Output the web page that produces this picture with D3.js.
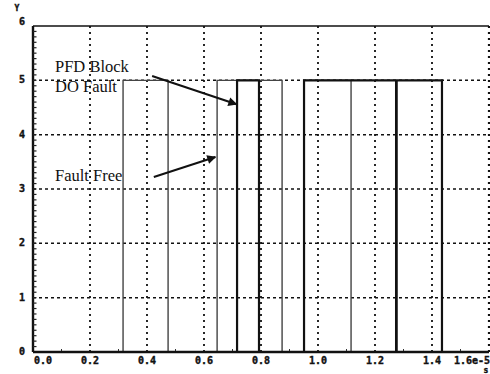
<!DOCTYPE html>
<html>
<head>
<meta charset="utf-8">
<script src="https://cdn.jsdelivr.net/npm/d3@7"></script>
<style>
  body { margin: 0; background: #fff; }
  svg { display: block; }
  .tick-label { font-family: "DejaVu Sans Mono", monospace; font-weight: bold; font-size: 10px; fill: #111; stroke: #111; stroke-width: 0.4px; }
  .note { font-family: "Liberation Serif", "Times New Roman", serif; font-size: 16.5px; fill: #111; }
</style>
</head>
<body>
<div id="chart"></div>
<script>
//Chart data (time in units of 1e-5 s, signal value)

var xTicks = [0, 0.2, 0.4, 0.6, 0.8, 1.0, 1.2, 1.4, 1.6];
var xTickLabels = ["0.0", "0.2", "0.4", "0.6", "0.8", "1.0", "1.2", "1.4", "1.6e-5"];
var yTicks = [0, 1, 2, 3, 4, 5, 6];
var yTickLabels = ["0", "1", "2", "3", "4", "5", "6"];

//Fault free signal (thin grey trace)
var faultFreeT = [0, 0.316, 0.316, 0.474, 0.474, 0.646, 0.646, 0.874, 0.874, 0.951, 0.951, 1.116, 1.116, 1.6];
var faultFreeV = [0, 0, 5, 5, 0, 0, 5, 5, 0, 0, 5, 5, 0, 0];

//PFD block DO fault signal (thick black trace)
var doFaultT = [0, 0.716, 0.716, 0.793, 0.793, 0.951, 0.951, 1.274, 1.274, 1.276, 1.276, 1.435, 1.435, 1.6];
var doFaultV = [0, 0, 5, 5, 0, 0, 5, 5, 0, 0, 5, 5, 0, 0];

//Annotations: text lines and arrows [from t, from v, to t, to v]
var notes = [
    {lines: ["PFD Block", "DO Fault"], x: 55, y: 72},
    {lines: ["Fault Free"], x: 55, y: 181}
];
var arrows = [
    [0.418, 5.08, 0.714, 4.56],
    [0.424, 3.22, 0.640, 3.59]
];

var width = 490, height = 374;
var svg = d3.select("#chart").append("svg").attr("width", width).attr("height", height);

var x = d3.scaleLinear().domain([0, 1.6]).range([33, 489]);
var y = d3.scaleLinear().domain([0, 6]).range([352, 26]);

//Grid lines
svg.selectAll("line.vgrid").data(xTicks.slice(1)).enter().append("line")
    .attr("x1", d => x(d)).attr("x2", d => x(d))
    .attr("y1", y(6)).attr("y2", y(0))
    .attr("stroke", "#111").attr("stroke-width", d => d == 1.6 ? 2.2 : 1.8)
    .attr("stroke-dasharray", "2,4");

svg.selectAll("line.hgrid").data(yTicks.slice(1, 6)).enter().append("line")
    .attr("x1", x(0)).attr("x2", x(1.6))
    .attr("y1", d => y(d)).attr("y2", d => y(d))
    .attr("stroke", "#111").attr("stroke-width", 1.5)
    .attr("stroke-dasharray", "3,3");

//Frame: solid top, thick left and bottom
svg.append("line").attr("x1", x(0)).attr("x2", x(1.6)).attr("y1", y(6)).attr("y2", y(6))
    .attr("stroke", "#111").attr("stroke-width", 1.4);
svg.append("line").attr("x1", x(0)).attr("x2", x(0)).attr("y1", y(6)).attr("y2", y(0))
    .attr("stroke", "#111").attr("stroke-width", 2.4);

//Minor ticks on the y axis
var yMinor = d3.range(0, 60).map(i => i / 10);
svg.selectAll("line.ymin").data(yMinor).enter().append("line")
    .attr("x1", x(0)).attr("x2", x(0) + 3.5)
    .attr("y1", d => y(d)).attr("y2", d => y(d))
    .attr("stroke", "#222").attr("stroke-width", 1.2);

//Minor ticks on the x axis
var xMinor = d3.range(1, 16, 2).map(i => i / 10);
svg.selectAll("line.xmin").data(xMinor).enter().append("line")
    .attr("x1", d => x(d)).attr("x2", d => x(d))
    .attr("y1", y(0)).attr("y2", y(0) - 3)
    .attr("stroke", "#333").attr("stroke-width", 1);

//Signals
var line = d3.line().x(d => x(d[0])).y(d => y(d[1]));

var faultFree = faultFreeT.map((t, i) => [t, faultFreeV[i]]);
var doFault = doFaultT.map((t, i) => [t, doFaultV[i]]);

svg.append("path").datum(faultFree).attr("d", line)
    .attr("fill", "none").attr("stroke", "#444").attr("stroke-width", 1.4);
svg.append("path").datum(doFault).attr("d", line)
    .attr("fill", "none").attr("stroke", "#111").attr("stroke-width", 2.2);

//Bottom axis line on top of everything
svg.append("line").attr("x1", x(0)).attr("x2", x(1.6)).attr("y1", y(0)).attr("y2", y(0))
    .attr("stroke", "#111").attr("stroke-width", 2.6);

//Tick labels
svg.selectAll("text.xl").data(xTicks).enter().append("text")
    .attr("class", "tick-label")
    .attr("x", (d, i) => i == 0 ? x(d) + 10 : (i == xTicks.length - 1 ? 490 : x(d)))
    .attr("y", 364)
    .attr("text-anchor", (d, i) => i == xTicks.length - 1 ? "end" : "middle")
    .text((d, i) => xTickLabels[i]);

svg.selectAll("text.yl").data(yTicks).enter().append("text")
    .attr("class", "tick-label")
    .attr("x", 25)
    .attr("y", d => d == 6 ? y(d) - 1 : y(d) + 3)
    .attr("text-anchor", "end")
    .text((d, i) => yTickLabels[i]);

//Axis names
svg.append("text").attr("class", "tick-label").attr("x", 17).attr("y", 11)
    .attr("text-anchor", "middle").style("font-size", "8px").text("Y");
svg.append("text").attr("class", "tick-label").attr("x", 486).attr("y", 373)
    .attr("text-anchor", "middle").style("font-size", "8px").text("s");

//Annotations
notes.forEach(function(n) {
    n.lines.forEach(function(l, i) {
        svg.append("text").attr("class", "note")
            .attr("x", n.x).attr("y", n.y + i * 20).text(l);
    });
});

svg.append("defs").append("marker").attr("id", "head")
    .attr("viewBox", "0 0 10 10").attr("refX", 9).attr("refY", 5)
    .attr("markerWidth", 12).attr("markerHeight", 9).attr("orient", "auto")
    .attr("markerUnits", "userSpaceOnUse")
    .append("path").attr("d", "M0,0 L10,5 L0,10 z").attr("fill", "#111");

svg.selectAll("line.arrow").data(arrows).enter().append("line")
    .attr("x1", d => x(d[0])).attr("y1", d => y(d[1]))
    .attr("x2", d => x(d[2])).attr("y2", d => y(d[3]))
    .attr("stroke", "#111").attr("stroke-width", 2)
    .attr("marker-end", "url(#head)");
</script>
</body>
</html>
